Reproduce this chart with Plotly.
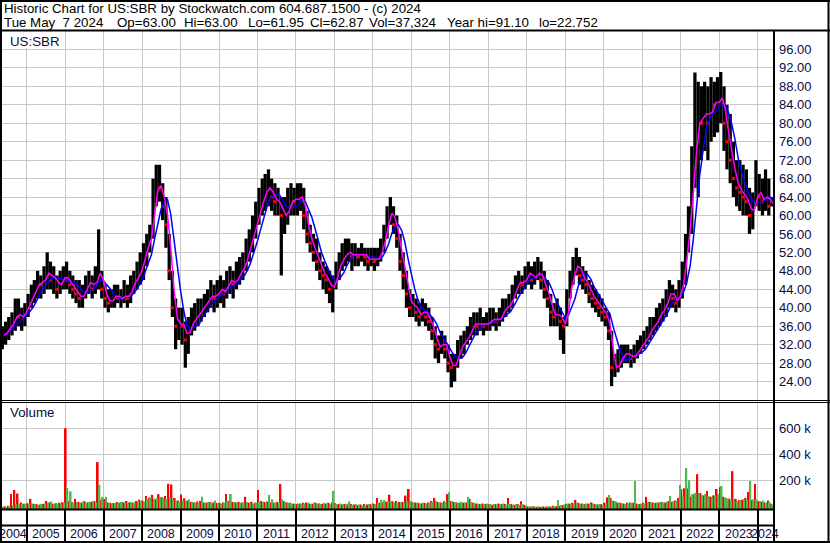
import pandas as pd
import plotly.graph_objects as go

W, H = 830, 543

# ---------------- data (monthly, May 2004 - May 2024) ----------------
months = pd.date_range("2004-05-01", "2024-05-01", freq="MS")

price_hi = [
    36, 37, 38, 39, 42, 42, 40, 41,                      # 2004 May-Dec
    43, 45, 46, 48, 47, 49, 52, 50, 49, 47, 48, 49,      # 2005
    50, 48, 47, 46, 46, 45, 47, 48, 47, 49, 57, 48,      # 2006
    45, 44, 44, 45, 45, 44, 46, 45, 47, 48, 50, 52,      # 2007
    54, 56, 58, 68, 71, 71, 67, 64, 56, 48, 42, 40,      # 2008
    40, 37, 38, 40, 41, 42, 42, 43, 44, 46, 45, 46,      # 2009
    47, 46, 48, 49, 48, 50, 51, 52, 55, 57, 60, 63,      # 2010
    66, 68, 69, 70, 68, 67, 66, 64, 64, 66, 67, 66,      # 2011
    67, 67, 66, 61, 58, 56, 55, 52, 50, 49, 48, 47,      # 2012
    50, 52, 54, 55, 55, 54, 54, 53, 54, 53, 53, 53,      # 2013
    53, 53, 55, 58, 62, 64, 62, 60, 56, 52, 48, 44,      # 2014
    43, 42, 41, 42, 41, 40, 38, 36, 34, 35, 34, 32,      # 2015
    30, 30, 33, 34, 35, 36, 38, 39, 39, 40, 38, 39,      # 2016
    40, 40, 39, 40, 42, 42, 43, 45, 47, 48, 47, 49,      # 2017
    50, 49, 50, 51, 50, 48, 46, 43, 41, 42, 40, 38,      # 2018
    44, 48, 51, 53, 51, 49, 48, 46, 45, 44, 43, 42,      # 2019
    40, 39, 35, 30, 31, 32, 32, 32, 31, 32, 33, 34,      # 2020
    35, 36, 38, 38, 40, 41, 42, 44, 46, 45, 44, 46,      # 2021
    50, 56, 62, 75, 91, 89, 88, 89, 88, 90, 89, 90,      # 2022
    91.1, 88, 84, 82, 76, 72, 72, 71, 70, 66, 65, 72,    # 2023
    69, 68, 70, 68, 64,                                  # 2024 Jan-May
]
price_lo = [
    31, 32, 33, 34, 35, 36, 35, 36,
    38, 40, 41, 42, 42, 43, 44, 44, 43, 42, 43, 44,
    44, 43, 42, 41, 40, 40, 42, 43, 42, 43, 44, 42,
    40, 39, 40, 40, 41, 40, 41, 40, 41, 43, 44, 45,
    46, 49, 52, 55, 62, 63, 59, 53, 46, 38, 31, 33,
    32, 27, 30, 34, 35, 36, 37, 38, 39, 40, 39, 40,
    41, 40, 42, 43, 42, 44, 45, 46, 48, 50, 52, 55,
    58, 60, 61, 62, 61, 60, 60, 47, 56, 58, 60, 60,
    60, 61, 57, 54, 52, 50, 48, 46, 44, 43, 41, 39,
    44, 46, 48, 49, 50, 48, 49, 49, 50, 49, 48, 49,
    48, 49, 50, 52, 55, 58, 56, 53, 48, 44, 40, 38,
    38, 37, 36, 37, 36, 35, 33, 29, 28, 30, 29, 26,
    22.752, 24, 27, 29, 30, 32, 33, 34, 34, 35, 34, 35,
    35, 36, 35, 36, 37, 38, 39, 40, 42, 43, 43, 44,
    45, 44, 45, 46, 44, 42, 40, 36, 36, 36, 33, 30,
    36, 42, 45, 47, 45, 44, 43, 41, 40, 39, 38, 37,
    36, 33, 23, 25, 26, 27, 28, 28, 27, 28, 29, 30,
    31, 32, 33, 34, 35, 36, 37, 38, 40, 40, 39, 40,
    42, 45, 52, 56, 66, 64, 72, 74, 72, 76, 77, 78,
    80, 74, 70, 67, 64, 62, 61, 60, 60, 56, 57, 62,
    61, 60, 61, 60, 61.95,
]
price_close = [
    34, 35, 36, 37, 39, 38, 38, 40,
    41, 43, 44, 46, 45, 47, 48, 46, 47, 44, 46, 47,
    46, 45, 44, 43, 42, 43, 45, 46, 44, 47, 48, 44,
    42, 41, 42, 43, 42, 42, 43, 42, 45, 46, 47, 49,
    52, 54, 56, 64, 67, 66, 62, 58, 48, 40, 36, 37,
    36, 33, 36, 37, 38, 39, 40, 41, 42, 43, 42, 44,
    44, 43, 46, 46, 45, 47, 48, 49, 52, 54, 57, 60,
    62, 64, 66, 66, 64, 63, 63, 60, 60, 62, 64, 63,
    64, 64, 60, 56, 54, 52, 50, 48, 47, 46, 44, 45,
    48, 50, 51, 52, 52, 51, 52, 51, 52, 51, 50, 51,
    50, 51, 53, 56, 60, 61, 58, 55, 50, 47, 43, 40,
    41, 39, 38, 40, 38, 37, 35, 32, 31, 33, 31, 28,
    27, 28, 31, 32, 33, 34, 36, 37, 36, 37, 36, 37,
    37, 38, 37, 38, 40, 40, 41, 43, 45, 46, 45, 47,
    48, 46, 47, 48, 46, 44, 42, 39, 38, 39, 37, 36,
    42, 46, 48, 50, 47, 46, 45, 43, 42, 41, 40, 39,
    38, 35, 27, 27, 28, 30, 30, 30, 29, 30, 31, 32,
    33, 34, 36, 36, 38, 39, 40, 42, 44, 42, 41, 44,
    47, 54, 60, 70, 78, 82, 80, 84, 80, 85, 84, 85,
    86, 80, 76, 72, 68, 66, 65, 64, 63, 60, 62, 66,
    64, 63, 65, 62, 62.87,
]
# monthly volume (thousands of shares): down-volume (red) and up-volume (green)
vol_down_k = [
    18, 20, 25, 116, 148, 120, 50, 40,
    45, 78, 40, 38, 35, 40, 62, 50, 40, 45, 48, 52,
    625, 62, 52, 78, 55, 48, 60, 52, 56, 62, 363, 72,
    78, 52, 48, 45, 55, 48, 52, 62, 50, 48, 62, 72,
    65, 100, 85, 110, 75, 115, 92, 100, 195, 190, 85, 65,
    112, 82, 65, 55, 50, 58, 62, 50, 48, 55, 50, 48,
    48, 50, 116, 62, 55, 50, 55, 50, 94, 50, 55, 48,
    148, 62, 55, 58, 50, 48, 55, 194, 62, 50, 48, 42,
    40, 42, 48, 50, 42, 40, 48, 42, 40, 42, 48, 50,
    45, 38, 35, 38, 35, 38, 35, 30, 35, 38, 35, 38,
    42, 86, 48, 50, 55, 111, 60, 62, 55, 55, 104, 155,
    55, 50, 48, 42, 48, 50, 62, 86, 55, 50, 60, 115,
    62, 55, 50, 48, 48, 50, 78, 48, 42, 38, 42, 38,
    38, 32, 38, 42, 38, 38, 86, 38, 32, 38, 60, 32,
    20, 18, 20, 18, 16, 20, 18, 20, 25, 22, 25, 30,
    38, 42, 48, 70, 48, 42, 38, 42, 50, 38, 32, 38,
    48, 90, 85, 62, 50, 48, 42, 48, 50, 48, 42, 38,
    48, 94, 55, 50, 48, 50, 55, 50, 60, 55, 65, 85,
    153, 160, 160, 95, 115, 270, 124, 105, 140, 95, 105, 155,
    168, 95, 85, 80, 293, 78, 70, 72, 85, 132, 70, 194,
    60, 55, 50, 65, 40,
]
vol_up_k = [
    15, 18, 22, 30, 36, 42, 40, 35,
    38, 42, 38, 32, 38, 42, 48, 58, 42, 38, 42, 48,
    163, 137, 48, 55, 50, 58, 48, 55, 62, 50, 188, 94,
    94, 48, 42, 48, 50, 55, 48, 42, 55, 50, 60, 55,
    58, 75, 92, 80, 88, 92, 85, 75, 88, 75, 65, 55,
    65, 60, 75, 55, 50, 48, 94, 50, 55, 48, 65, 42,
    42, 48, 65, 116, 55, 50, 48, 50, 55, 48, 42, 50,
    55, 50, 48, 109, 75, 50, 48, 75, 55, 48, 42, 38,
    42, 38, 42, 48, 38, 50, 42, 38, 48, 42, 38, 140,
    38, 42, 38, 42, 58, 32, 38, 32, 28, 32, 38, 32,
    38, 48, 72, 68, 60, 55, 50, 48, 50, 55, 60, 65,
    50, 48, 42, 48, 42, 48, 55, 62, 50, 48, 55, 130,
    60, 50, 48, 55, 50, 94, 55, 48, 42, 38, 38, 42,
    38, 38, 32, 38, 42, 32, 38, 32, 38, 32, 38, 28,
    18, 20, 18, 20, 18, 16, 20, 18, 20, 70, 30, 35,
    42, 38, 42, 48, 42, 38, 42, 38, 42, 38, 38, 32,
    42, 109, 65, 60, 48, 42, 38, 42, 48, 217, 38, 42,
    42, 50, 55, 48, 50, 55, 50, 55, 101, 60, 65, 186,
    95, 317, 222, 115, 125, 124, 105, 115, 100, 95, 105, 115,
    178, 90, 80, 72, 68, 62, 68, 75, 70, 217, 75, 75,
    62, 65, 50, 55, 35,
]

price_ticks = [24, 28, 32, 36, 40, 44, 48, 52, 56, 60, 64, 68, 72, 76, 80, 84, 88, 92, 96]
vol_ticks = [200000, 400000, 600000]
vol_tick_text = ["200 k", "400 k", "600 k"]
years = list(range(2004, 2025))

header_1 = "Historic Chart for US:SBR by Stockwatch.com 604.687.1500 - (c) 2024"
header_2 = [("Tue May \u00a07 2024", 2), ("Op=63.00", 115), ("Hi=63.00", 181.5),
            ("Lo=61.95", 246), ("Cl=62.87", 308), ("Vol=37,324", 366.5),
            ("Year hi=91.10", 445), ("lo=22.752", 536.5)]

for arr in (price_hi, price_lo, price_close, vol_down_k, vol_up_k):
    assert len(arr) == len(months), len(arr)

# ---------------- derived ----------------
mid = months + pd.Timedelta(days=14)
month_end = months + pd.offsets.MonthEnd(0)
hi = pd.Series(price_hi, dtype=float)
lo = pd.Series(price_lo, dtype=float)
close = pd.Series(price_close, dtype=float)
ma_fast = close.rolling(2, min_periods=1).mean()
ma_slow = close.rolling(5, min_periods=1).mean()
down = close < close.shift(1)
vol_down = pd.Series(vol_down_k) * 1000
vol_up = pd.Series(vol_up_k) * 1000

DAY = 86400000
x_start = pd.Timestamp("2004-04-23")
x_end = pd.Timestamp("2024-05-25")

FONT = "Liberation Sans, Arial, sans-serif"
LABEL = "#0a0a46"
GRID = "#c8c8c8"


def fx(px):
    return px / W


def fy(py):
    return 1 - py / H


fig = go.Figure()

fig.add_trace(go.Bar(x=mid, y=hi - lo, base=lo, width=31 * DAY,
                     marker=dict(color="black", line=dict(width=0)),
                     xaxis="x", yaxis="y", hoverinfo="skip"))
fig.add_trace(go.Scatter(x=mid[down.values], y=close[down], mode="markers",
                         marker=dict(color="red", size=3, symbol="square", line=dict(width=0)),
                         xaxis="x", yaxis="y", hoverinfo="skip"))
fig.add_trace(go.Scatter(x=month_end, y=ma_slow, mode="lines", line=dict(color="#0000ff", width=1.5),
                         xaxis="x", yaxis="y", hoverinfo="skip"))
fig.add_trace(go.Scatter(x=month_end, y=ma_fast, mode="lines", line=dict(color="#ff00ff", width=1.5),
                         xaxis="x", yaxis="y", hoverinfo="skip"))

fig.add_trace(go.Bar(x=mid, y=vol_down, width=16 * DAY, offset=-16 * DAY, base=-23000,
                     marker=dict(color="#ff0000", line=dict(width=0)),
                     xaxis="x2", yaxis="y2", hoverinfo="skip"))
fig.add_trace(go.Bar(x=mid, y=vol_up, width=16 * DAY, offset=0, base=-23000,
                     marker=dict(color="#4db84d", line=dict(width=0)),
                     xaxis="x2", yaxis="y2", hoverinfo="skip"))

xcommon = dict(type="date", range=[x_start, x_end], domain=[0, fx(773)],
               showgrid=True, gridcolor=GRID, gridwidth=1, dtick="M12",
               tick0="2005-01-01", zeroline=False, showline=False, fixedrange=True)

fig.update_layout(
    width=W, height=H, margin=dict(l=0, r=0, t=0, b=0),
    paper_bgcolor="white", plot_bgcolor="white", showlegend=False,
    barmode="overlay",
    xaxis=dict(**xcommon, anchor="y", showticklabels=False, ticks=""),
    xaxis2=dict(**xcommon, anchor="y2", matches="x", showticklabels=False,
                ticks="outside", ticklen=32, tickwidth=2, tickcolor="black"),
    yaxis=dict(domain=[fy(400), fy(31)], range=[20, 100], side="right", anchor="x",
               tickvals=price_ticks, tickformat=".2f", showgrid=True, gridcolor=GRID,
               zeroline=False, ticks="", ticklabelstandoff=5,
               tickfont=dict(family=FONT, size=13, color=LABEL)),
    yaxis2=dict(domain=[fy(509), fy(403)], range=[-23000, 798000], side="right", anchor="x2",
                tickvals=vol_ticks, ticktext=vol_tick_text, showgrid=True, gridcolor=GRID,
                zeroline=False, ticks="", ticklabelstandoff=5,
                tickfont=dict(family=FONT, size=13, color=LABEL)),
)

shapes = []


def hline(py, x0=0, x1=W, w=2):
    shapes.append(dict(type="line", xref="paper", yref="paper", x0=fx(x0), x1=fx(x1),
                       y0=fy(py), y1=fy(py), line=dict(color="black", width=w), layer="above"))


def vline(px, y0, y1, w=2):
    shapes.append(dict(type="line", xref="paper", yref="paper", x0=fx(px), x1=fx(px),
                       y0=fy(y0), y1=fy(y1), line=dict(color="black", width=w), layer="above"))


# white box behind the symbol label
shapes.append(dict(type="rect", xref="paper", yref="paper", x0=fx(1), x1=fx(63),
                   y0=fy(48), y1=fy(32), fillcolor="white", line=dict(width=0), layer="above"))
hline(1, w=2)
hline(30.5, w=2)
hline(400.5, w=1)
hline(402.5, w=1)
hline(509.5, 0, 774, w=2)
hline(525.5, 0, 774, w=2)
hline(542, w=2)
vline(1, 0, 543, w=2)
vline(828.5, 0, 543, w=2)
vline(774, 31, 543, w=2)
fig.update_layout(shapes=shapes)

ann = []
ann.append(dict(text=header_1, x=fx(2), y=fy(9), xref="paper", yref="paper",
                xanchor="left", yanchor="middle", showarrow=False,
                font=dict(family=FONT, size=13.3, color="black")))
for txt, px in header_2:
    ann.append(dict(text=txt, x=fx(px), y=fy(22.5), xref="paper", yref="paper",
                    xanchor="left", yanchor="middle", showarrow=False,
                    font=dict(family=FONT, size=13.3, color="black")))
ann.append(dict(text="US:SBR", x=fx(8), y=fy(41), xref="paper", yref="paper",
                xanchor="left", yanchor="middle", showarrow=False,
                font=dict(family=FONT, size=13.3, color=LABEL)))
ann.append(dict(text="Volume", x=fx(8), y=fy(413), xref="paper", yref="paper",
                xanchor="left", yanchor="middle", showarrow=False,
                font=dict(family=FONT, size=13.3, color=LABEL)))
for yr in years:
    a = max(pd.Timestamp(f"{yr}-01-01"), x_start)
    b = min(pd.Timestamp(f"{yr + 1}-01-01"), x_end)
    c = a + (b - a) / 2
    ann.append(dict(text=str(yr), x=c, y=fy(534), xref="x", yref="paper",
                    xanchor="center", yanchor="middle", showarrow=False,
                    font=dict(family=FONT, size=12.5, color=LABEL)))
fig.update_layout(annotations=ann)

fig.write_html("out.html", config={"displayModeBar": False},
               post_script="document.body.style.margin='0';document.body.style.overflow='hidden';")
